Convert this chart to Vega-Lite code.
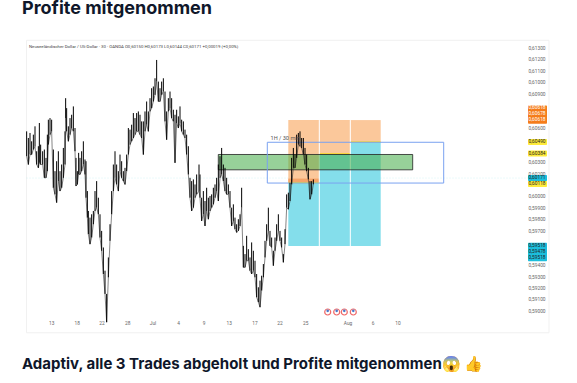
{"$schema":"https://vega.github.io/schema/vega-lite/v6.json","width":577,"height":383,"padding":0,"autosize":{"type":"fit","contains":"padding"},"background":"#ffffff",
"config":{"view":{"stroke":null}},
"datasets":{
"bars":[
{"t":5.33,"hi":0.60578,"lo":0.60361},{"t":5.67,"hi":0.6052,"lo":0.60288},{"t":6,"hi":0.60564,"lo":0.60375},{"t":6.33,"hi":0.60491,"lo":0.60375},{"t":6.67,"hi":0.60549,"lo":0.60419},{"t":7,"hi":0.60622,"lo":0.60448},{"t":7.33,"hi":0.60404,"lo":0.60288},{"t":7.67,"hi":0.60448,"lo":0.60259},{"t":7.87,"hi":0.60651,"lo":0.60303},{"t":8.13,"hi":0.60462,"lo":0.60288},{"t":8.53,"hi":0.60404,"lo":0.60288},{"t":8.87,"hi":0.60419,"lo":0.60172},{"t":9.2,"hi":0.60346,"lo":0.60172},{"t":9.47,"hi":0.60549,"lo":0.6023},{"t":9.67,"hi":0.6068,"lo":0.60462},{"t":10,"hi":0.60694,"lo":0.60549},{"t":10.33,"hi":0.6068,"lo":0.60578},{"t":10.67,"hi":0.60419,"lo":0.60085},{"t":11,"hi":0.6023,"lo":0.60027},{"t":11.33,"hi":0.60317,"lo":0.59955},{"t":11.67,"hi":0.60404,"lo":0.60143},{"t":12,"hi":0.6023,"lo":0.60056},{"t":12.33,"hi":0.60288,"lo":0.60085},{"t":12.67,"hi":0.60433,"lo":0.60172},{"t":13,"hi":0.60578,"lo":0.60288},{"t":13.13,"hi":0.60868,"lo":0.60694},{"t":13.33,"hi":0.60781,"lo":0.60578},{"t":13.67,"hi":0.60622,"lo":0.60491},{"t":14,"hi":0.60694,"lo":0.60549},{"t":14.33,"hi":0.60723,"lo":0.60607},{"t":14.67,"hi":0.60796,"lo":0.60578},{"t":15,"hi":0.60607,"lo":0.60404},{"t":15.2,"hi":0.60346,"lo":0.601},{"t":15.47,"hi":0.6023,"lo":0.60114},{"t":15.73,"hi":0.6039,"lo":0.60201},{"t":16,"hi":0.60346,"lo":0.60201},{"t":16.33,"hi":0.60404,"lo":0.6023},{"t":16.67,"hi":0.60491,"lo":0.60288},{"t":17,"hi":0.60332,"lo":0.60201},{"t":17.2,"hi":0.60317,"lo":0.59998},{"t":17.47,"hi":0.60056,"lo":0.59824},{"t":17.67,"hi":0.59882,"lo":0.59679},{"t":18,"hi":0.59824,"lo":0.59592},{"t":18.33,"hi":0.59853,"lo":0.5965},{"t":18.67,"hi":0.59882,"lo":0.59766},{"t":19,"hi":0.60056,"lo":0.59882},{"t":19.33,"hi":0.60143,"lo":0.59911},{"t":19.67,"hi":0.59998,"lo":0.59853},{"t":20,"hi":0.59853,"lo":0.5965},{"t":20.33,"hi":0.59708,"lo":0.59534},{"t":20.67,"hi":0.59563,"lo":0.59331},{"t":21,"hi":0.5936,"lo":0.59157},{"t":21.33,"hi":0.59157,"lo":0.5891},{"t":21.67,"hi":0.59476,"lo":0.59302},{"t":22,"hi":0.59766,"lo":0.59621},{"t":22.33,"hi":0.60056,"lo":0.59853},{"t":22.67,"hi":0.60288,"lo":0.60056},{"t":23,"hi":0.60404,"lo":0.60172},{"t":23.33,"hi":0.60288,"lo":0.60114},{"t":23.67,"hi":0.6023,"lo":0.60056},{"t":24,"hi":0.60375,"lo":0.6023},{"t":24.33,"hi":0.60317,"lo":0.60172},{"t":24.67,"hi":0.6023,"lo":0.60143},{"t":25,"hi":0.60259,"lo":0.60114},{"t":25.33,"hi":0.60375,"lo":0.6023},{"t":25.67,"hi":0.60607,"lo":0.60375},{"t":26,"hi":0.60593,"lo":0.60462},{"t":26.33,"hi":0.60636,"lo":0.60491},{"t":26.67,"hi":0.60738,"lo":0.6052},{"t":27,"hi":0.60694,"lo":0.60549},{"t":27.33,"hi":0.60738,"lo":0.60578},{"t":27.67,"hi":0.60752,"lo":0.60578},{"t":28,"hi":0.60723,"lo":0.60549},{"t":28.33,"hi":0.60665,"lo":0.6052},{"t":28.67,"hi":0.60665,"lo":0.60375},{"t":29,"hi":0.60752,"lo":0.60578},{"t":29.33,"hi":0.60839,"lo":0.60636},{"t":29.67,"hi":0.60752,"lo":0.60578},{"t":30,"hi":0.60868,"lo":0.60752},{"t":30.33,"hi":0.60955,"lo":0.60781},{"t":30.67,"hi":0.6097,"lo":0.60839},{"t":31,"hi":0.61042,"lo":0.60897},{"t":31.33,"hi":0.61202,"lo":0.61013},{"t":31.67,"hi":0.61013,"lo":0.60839},{"t":32,"hi":0.60955,"lo":0.60839},{"t":32.33,"hi":0.61013,"lo":0.60897},{"t":32.67,"hi":0.61042,"lo":0.60926},{"t":33,"hi":0.60926,"lo":0.60665},{"t":33.33,"hi":0.60752,"lo":0.60505},{"t":33.67,"hi":0.60868,"lo":0.60752},{"t":34,"hi":0.60926,"lo":0.60781},{"t":34.33,"hi":0.60868,"lo":0.60694},{"t":34.67,"hi":0.60767,"lo":0.60665},{"t":35,"hi":0.60723,"lo":0.60303},{"t":35.33,"hi":0.60767,"lo":0.60651},{"t":35.67,"hi":0.60709,"lo":0.60607},{"t":36,"hi":0.60796,"lo":0.60651},{"t":36.33,"hi":0.6068,"lo":0.60578},{"t":36.67,"hi":0.60665,"lo":0.60549},{"t":37,"hi":0.60593,"lo":0.6052},{"t":37.33,"hi":0.60549,"lo":0.60375},{"t":37.67,"hi":0.60448,"lo":0.60201},{"t":38,"hi":0.60172,"lo":0.59998},{"t":38.33,"hi":0.60143,"lo":0.59882},{"t":38.67,"hi":0.60158,"lo":0.59911},{"t":39,"hi":0.60114,"lo":0.59998},{"t":39.33,"hi":0.60201,"lo":0.60027},{"t":39.8,"hi":0.60288,"lo":0.60056},{"t":40,"hi":0.60201,"lo":0.59998},{"t":40.33,"hi":0.59998,"lo":0.59795},{"t":40.67,"hi":0.60056,"lo":0.59853},{"t":41,"hi":0.59969,"lo":0.59751},{"t":41.33,"hi":0.60085,"lo":0.59882},{"t":41.67,"hi":0.59998,"lo":0.5981},{"t":42,"hi":0.60013,"lo":0.59882},{"t":42.33,"hi":0.60027,"lo":0.59911},{"t":42.67,"hi":0.60085,"lo":0.5994},{"t":43,"hi":0.60114,"lo":0.59998},{"t":43.33,"hi":0.60172,"lo":0.60056},{"t":43.67,"hi":0.60288,"lo":0.59969},{"t":44,"hi":0.60361,"lo":0.60172},{"t":44.33,"hi":0.60433,"lo":0.60201},{"t":44.67,"hi":0.60288,"lo":0.60143},{"t":45,"hi":0.60259,"lo":0.60056},{"t":45.33,"hi":0.60172,"lo":0.60027},{"t":45.67,"hi":0.60114,"lo":0.60027},{"t":46,"hi":0.60056,"lo":0.59911},{"t":46.33,"hi":0.59911,"lo":0.59751},{"t":46.67,"hi":0.5994,"lo":0.59795},{"t":47,"hi":0.59824,"lo":0.59723},{"t":47.33,"hi":0.59766,"lo":0.59694},{"t":47.67,"hi":0.5981,"lo":0.59708},{"t":48,"hi":0.59853,"lo":0.59751},{"t":48.33,"hi":0.60085,"lo":0.59911},{"t":48.67,"hi":0.59577,"lo":0.59389},{"t":49,"hi":0.59505,"lo":0.59389},{"t":49.33,"hi":0.59665,"lo":0.59447},{"t":49.67,"hi":0.59548,"lo":0.59447},{"t":50,"hi":0.59476,"lo":0.5936},{"t":50.33,"hi":0.59607,"lo":0.59331},{"t":50.67,"hi":0.59534,"lo":0.5936},{"t":51,"hi":0.59447,"lo":0.59302},{"t":51.33,"hi":0.59331,"lo":0.59128},{"t":51.67,"hi":0.59215,"lo":0.59085},{"t":52,"hi":0.59273,"lo":0.59041},{"t":52.33,"hi":0.59316,"lo":0.59186},{"t":52.67,"hi":0.59418,"lo":0.59302},{"t":53,"hi":0.59621,"lo":0.59476},{"t":53.33,"hi":0.59766,"lo":0.59621},{"t":53.67,"hi":0.59911,"lo":0.59708},{"t":54,"hi":0.59708,"lo":0.59577},{"t":54.33,"hi":0.5965,"lo":0.59563},{"t":54.67,"hi":0.59534,"lo":0.59404},{"t":55,"hi":0.5965,"lo":0.59534},{"t":55.33,"hi":0.59766,"lo":0.59621},{"t":55.67,"hi":0.59853,"lo":0.59708},{"t":56,"hi":0.59708,"lo":0.59621},{"t":56.33,"hi":0.5965,"lo":0.59563},{"t":56.67,"hi":0.59505,"lo":0.59433},{"t":57,"hi":0.59723,"lo":0.59592},{"t":57.33,"hi":0.60027,"lo":0.59911},{"t":57.67,"hi":0.60042,"lo":0.59897},{"t":58,"hi":0.60129,"lo":0.59969},{"t":58.33,"hi":0.60346,"lo":0.60114},{"t":58.67,"hi":0.60433,"lo":0.60259},{"t":59,"hi":0.60375,"lo":0.60259},{"t":59.33,"hi":0.60549,"lo":0.60346},{"t":59.67,"hi":0.60564,"lo":0.60462},{"t":60,"hi":0.60578,"lo":0.60448},{"t":60.33,"hi":0.6052,"lo":0.60433},{"t":60.67,"hi":0.6052,"lo":0.60375},{"t":61,"hi":0.60433,"lo":0.60288},{"t":61.33,"hi":0.60375,"lo":0.6023},{"t":61.67,"hi":0.60259,"lo":0.60158},{"t":62,"hi":0.60143,"lo":0.59984},{"t":62.33,"hi":0.60143,"lo":0.60027},{"t":62.67,"hi":0.60158,"lo":0.60114}
],
"ticks":[{"p":0.613,"l":"0,61300"},{"p":0.612,"l":"0,61200"},{"p":0.611,"l":"0,61100"},{"p":0.61,"l":"0,61000"},{"p":0.609,"l":"0,60900"},{"p":0.606,"l":"0,60600"},{"p":0.603,"l":"0,60300"},{"p":0.602,"l":"0,60200"},{"p":0.6,"l":"0,60000"},{"p":0.599,"l":"0,59900"},{"p":0.598,"l":"0,59800"},{"p":0.597,"l":"0,59700"},{"p":0.594,"l":"0,59400"},{"p":0.593,"l":"0,59300"},{"p":0.592,"l":"0,59200"},{"p":0.591,"l":"0,59100"},{"p":0.59,"l":"0,59000"}],
"dates":[{"t":10.34,"l":"13"},{"t":15.46,"l":"18"},{"t":20.4,"l":"22"},{"t":25.54,"l":"28"},{"t":30.6,"l":"Jul"},{"t":35.74,"l":"4"},{"t":40.8,"l":"9"},{"t":45.86,"l":"13"},{"t":51,"l":"17"},{"t":56,"l":"22"},{"t":61.14,"l":"25"},{"t":69.6,"l":"Aug"},{"t":74.6,"l":"6"},{"t":79.6,"l":"10"}],
"events":[{"t":65.54},{"t":67.34},{"t":68.86},{"t":70.66}]
},
"layer":[
{"data":{"values":[{"a":5.3,"b":109.8,"p1":0.613739,"p2":0.588174}]},"mark":{"type":"rect","fill":"#ffffff","stroke":"#f1f1f1","strokeWidth":1},"encoding":{"x":{"field":"a","type":"quantitative","scale":{"domain":[0,115.4],"nice":false,"zero":false},"axis":null},"x2":{"field":"b"},"y":{"field":"p1","type":"quantitative","scale":{"domain":[0.583783,0.617087],"nice":false,"zero":false},"axis":null},"y2":{"field":"p2"}}},
{"data":{"values":[{"a":5.3,"b":109.8,"p":0.601696}]},"mark":{"type":"rule","stroke":"#bfeef5","strokeWidth":0.6,"strokeDash":[1,2]},"encoding":{"x":{"field":"a","type":"quantitative"},"x2":{"field":"b"},"y":{"field":"p","type":"quantitative"}}},
{"data":{"values":[{"a":57.66,"b":63.86,"p1":0.606765,"p2":0.601287},{"a":63.86,"b":70.06,"p1":0.606765,"p2":0.603809},{"a":70.06,"b":76.14,"p1":0.606765,"p2":0.604852}]},"mark":{"type":"rect","fill":"#fbc89b"},"encoding":{"x":{"field":"a","type":"quantitative"},"x2":{"field":"b"},"y":{"field":"p1","type":"quantitative"},"y2":{"field":"p2"}}},
{"data":{"values":[{"a":57.66,"b":63.86,"p1":0.601652,"p2":0.601287}]},"mark":{"type":"rect","fill":"#f5a469"},"encoding":{"x":{"field":"a","type":"quantitative"},"x2":{"field":"b"},"y":{"field":"p1","type":"quantitative"},"y2":{"field":"p2"}}},
{"data":{"values":[{"a":57.66,"b":63.86,"p1":0.601287,"p2":0.595757},{"a":63.86,"b":70.06,"p1":0.603809,"p2":0.595757},{"a":70.06,"b":76.14,"p1":0.604852,"p2":0.595757}]},"mark":{"type":"rect","fill":"#84deeb"},"encoding":{"x":{"field":"a","type":"quantitative"},"x2":{"field":"b"},"y":{"field":"p1","type":"quantitative"},"y2":{"field":"p2"}}},
{"data":{"values":[{"a":57.66,"b":63.86,"p":0.601287},{"a":63.86,"b":70.06,"p":0.603809},{"a":70.06,"b":76.14,"p":0.604852}]},"mark":{"type":"rule","stroke":"#ffe100","strokeWidth":1},"encoding":{"x":{"field":"a","type":"quantitative"},"x2":{"field":"b"},"y":{"field":"p","type":"quantitative"}}},
{"data":{"values":[{"a":63.86,"p1":0.606765,"p2":0.595757},{"a":70.06,"p1":0.606765,"p2":0.595757}]},"mark":{"type":"rule","stroke":"#ffffff","strokeWidth":1},"encoding":{"x":{"field":"a","type":"quantitative"},"y":{"field":"p1","type":"quantitative"},"y2":{"field":"p2"}}},
{"data":{"values":[{"a":43.66,"b":82.54,"p1":0.603757,"p2":0.602417}]},"mark":{"type":"rect","fill":"#4caf50","fillOpacity":0.58,"stroke":"#222222","strokeWidth":0.8},"encoding":{"x":{"field":"a","type":"quantitative"},"x2":{"field":"b"},"y":{"field":"p1","type":"quantitative"},"y2":{"field":"p2"}}},
{"data":{"values":[{"a":53.46,"b":88.74,"p1":0.604826,"p2":0.601261}]},"mark":{"type":"rect","fill":"#2962ff","fillOpacity":0.0,"stroke":"#7aa2f0","strokeWidth":1},"encoding":{"x":{"field":"a","type":"quantitative"},"x2":{"field":"b"},"y":{"field":"p1","type":"quantitative"},"y2":{"field":"p2"}}},
{"data":{"name":"bars"},"mark":{"type":"line","stroke":"#333333","strokeWidth":0.6,"interpolate":"linear"},"encoding":{"x":{"field":"t","type":"quantitative"},"y":{"field":"lo","type":"quantitative"}}},
{"data":{"name":"bars"},"mark":{"type":"rule","stroke":"#000000","strokeWidth":1},"encoding":{"x":{"field":"t","type":"quantitative"},"y":{"field":"hi","type":"quantitative"},"y2":{"field":"lo"}}},
{"data":{"name":"ticks"},"mark":{"type":"text","font":"Roboto","fontSize":4.8,"fill":"#666666","align":"center","baseline":"middle"},"encoding":{"x":{"datum":107.4,"type":"quantitative"},"y":{"field":"p","type":"quantitative"},"text":{"field":"l"}}},
{"data":{"values":[{"a":105.6,"b":109.4,"p1":0.608043,"p2":0.606452}]},"mark":{"type":"rect","fill":"#f57c1a","cornerRadius":1},"encoding":{"x":{"field":"a","type":"quantitative"},"x2":{"field":"b"},"y":{"field":"p1","type":"quantitative"},"y2":{"field":"p2"}}},
{"data":{"values":[{"a":105.6,"b":109.4,"p1":0.596043,"p2":0.594417},{"a":105.6,"b":109.4,"p1":0.601957,"p2":0.601435}]},"mark":{"type":"rect","fill":"#1cbedc","cornerRadius":1},"encoding":{"x":{"field":"a","type":"quantitative"},"x2":{"field":"b"},"y":{"field":"p1","type":"quantitative"},"y2":{"field":"p2"}}},
{"data":{"values":[{"a":105.6,"b":109.4,"p1":0.605113,"p2":0.604591},{"a":105.6,"b":109.4,"p1":0.604104,"p2":0.603583},{"a":105.6,"b":109.4,"p1":0.601435,"p2":0.600913}]},"mark":{"type":"rect","fill":"#ffeb3b","cornerRadius":1},"encoding":{"x":{"field":"a","type":"quantitative"},"x2":{"field":"b"},"y":{"field":"p1","type":"quantitative"},"y2":{"field":"p2"}}},
{"data":{"values":[{"p":0.607783,"l":"0,60618"},{"p":0.607261,"l":"0,60678"},{"p":0.606739,"l":"0,60618"}]},"mark":{"type":"text","font":"Roboto","fontSize":4.8,"fill":"#ffffff","align":"center","baseline":"middle"},"encoding":{"x":{"datum":107.4,"type":"quantitative"},"y":{"field":"p","type":"quantitative"},"text":{"field":"l"}}},
{"data":{"values":[{"p":0.604852,"l":"0,60490"},{"p":0.603843,"l":"0,60384"},{"p":0.601696,"l":"0,60171"},{"p":0.601148,"l":"0,60118"},{"p":0.595757,"l":"0,59518"},{"p":0.595261,"l":"0,59478"},{"p":0.594739,"l":"0,59518"}]},"mark":{"type":"text","font":"Roboto","fontSize":4.8,"fill":"#222222","align":"center","baseline":"middle"},"encoding":{"x":{"datum":107.4,"type":"quantitative"},"y":{"field":"p","type":"quantitative"},"text":{"field":"l"}}},
{"data":{"name":"dates"},"mark":{"type":"text","font":"Roboto","fontSize":4.8,"fill":"#666666","align":"center","baseline":"middle"},"encoding":{"x":{"field":"t","type":"quantitative"},"y":{"datum":0.58895,"type":"quantitative"},"text":{"field":"l"}}},
{"data":{"values":[{"t":5.8,"p":0.61307,"l":"Neuseeländischer Dollar / US-Dollar · 30 · OANDA  O0,60150 H0,60173 L0,60144 C0,60171 +0,00019 (+0,00%)"}]},"mark":{"type":"text","font":"Roboto","fontSize":4.35,"fill":"#444444","align":"left","baseline":"alphabetic"},"encoding":{"x":{"field":"t","type":"quantitative"},"y":{"field":"p","type":"quantitative"},"text":{"field":"l"}}},
{"data":{"values":[{"t":54.1,"p":0.6052,"l":"1H / 30 min"}]},"mark":{"type":"text","font":"Roboto","fontSize":5.6,"fill":"#555555","align":"left","baseline":"middle"},"encoding":{"x":{"field":"t","type":"quantitative"},"y":{"field":"p","type":"quantitative"},"text":{"field":"l"}}},
{"data":{"name":"events"},"mark":{"type":"point","shape":"circle","size":36,"filled":true,"fill":"#ffffff","stroke":"#ef6a6a","strokeWidth":1.2,"opacity":1},"encoding":{"x":{"field":"t","type":"quantitative"},"y":{"datum":0.58999,"type":"quantitative"}}},
{"data":{"name":"events"},"mark":{"type":"point","shape":"circle","size":7,"filled":true,"fill":"#4a78c8","opacity":1},"encoding":{"x":{"field":"t","type":"quantitative"},"y":{"datum":0.59009,"type":"quantitative"}}},
{"data":{"values":[{"t":4.4,"p":0.616043,"l":"Profite mitgenommen"}]},"mark":{"type":"text","font":"Inter","fontSize":18,"fontWeight":700,"fill":"#0f172a","align":"left","baseline":"alphabetic"},"encoding":{"x":{"field":"t","type":"quantitative"},"y":{"field":"p","type":"quantitative"},"text":{"field":"l"}}},
{"data":{"values":[{"t":4.4,"p":0.584999,"l":"Adaptiv, alle 3 Trades abgeholt und Profite mitgenommen😱 👍"}]},"mark":{"type":"text","font":"Inter","fontSize":15,"fontWeight":700,"fill":"#0f172a","align":"left","baseline":"alphabetic"},"encoding":{"x":{"field":"t","type":"quantitative"},"y":{"field":"p","type":"quantitative"},"text":{"field":"l"}}}
]}
